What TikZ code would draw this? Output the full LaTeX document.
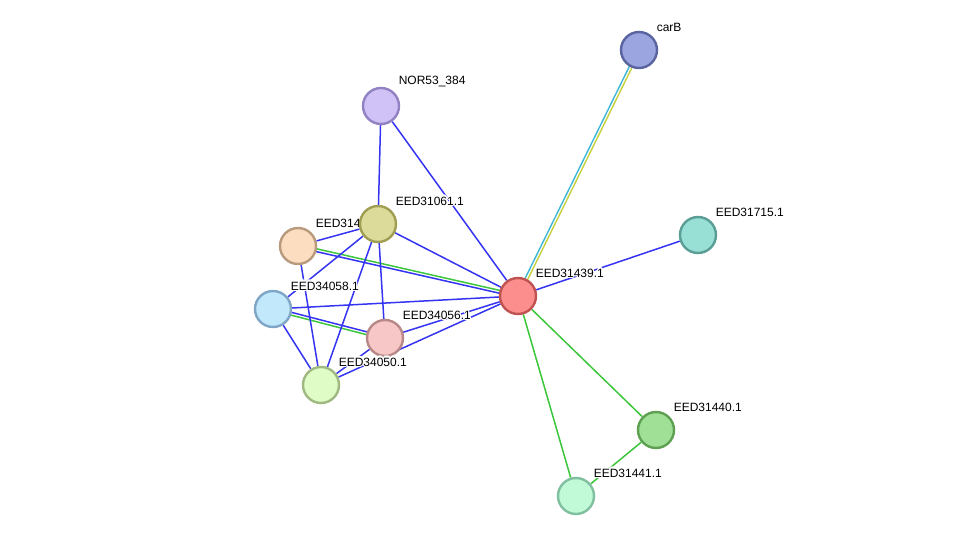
\documentclass[tikz,border=0pt]{standalone}
\usepackage{fontspec}
\setmainfont{Liberation Sans}
\usepackage[copies]{contour}
\contourlength{1.1pt}
\usetikzlibrary{calc,backgrounds}
\definecolor{linkblue}{HTML}{3434F2}
\definecolor{linkgreen}{HTML}{3CC63C}
\definecolor{linkcyan}{HTML}{3CB6D8}
\definecolor{linkyellow}{HTML}{C6D03C}
\definecolor{carbfill}{HTML}{9BA5E0}
\definecolor{carbdraw}{HTML}{5A64A0}
\definecolor{norfill}{HTML}{D0C2F6}
\definecolor{nordraw}{HTML}{9282C4}
\definecolor{olivefill}{HTML}{DCDB9A}
\definecolor{olivedraw}{HTML}{A09E52}
\definecolor{peachfill}{HTML}{FDDDC0}
\definecolor{peachdraw}{HTML}{B89A7C}
\definecolor{skyfill}{HTML}{C2E8FB}
\definecolor{skydraw}{HTML}{7FA6C6}
\definecolor{pinkfill}{HTML}{F7C7C7}
\definecolor{pinkdraw}{HTML}{B88888}
\definecolor{limefill}{HTML}{E0FCC6}
\definecolor{limedraw}{HTML}{A0B882}
\definecolor{redfill}{HTML}{FC8E8E}
\definecolor{reddraw}{HTML}{C05252}
\definecolor{tealfill}{HTML}{98DFD6}
\definecolor{tealdraw}{HTML}{5A9E96}
\definecolor{grassfill}{HTML}{A0E096}
\definecolor{grassdraw}{HTML}{5EA052}
\definecolor{mintfill}{HTML}{C0FAD6}
\definecolor{mintdraw}{HTML}{80C0A0}
\newcommand{\halo}[1]{\contour{white}{#1}}
\tikzset{
  protein/.style={circle,minimum size=36pt,inner sep=0pt,line width=2.4pt},
  plabel/.style={font=\fontsize{12}{14}\selectfont,inner sep=4pt},
  bluelink/.style={linkblue,line width=1.5pt},
  greenlink/.style={linkgreen,line width=1.5pt},
  cyanlink/.style={linkcyan,line width=1.4pt},
  yellowlink/.style={linkyellow,line width=1.4pt}
}

\begin{document}
\begin{tikzpicture}[x=1pt,y=-1pt]
  \useasboundingbox (0,-1) rectangle (975,540);

  % proteins (orange one before EED31061.1, which hides part of its label)
  \node[protein,draw=carbdraw,fill=carbfill,label={[plabel]45:\halo{carB}}] (carB) at (639,49) {};
  \node[protein,draw=nordraw,fill=norfill,label={[plabel]45:\halo{NOR53\_384}}] (nor53) at (381,105) {};
  \node[protein,draw=peachdraw,fill=peachfill,label={[plabel]45:\halo{EED31438.1}}] (eed31438) at (298,245) {};
  \node[protein,draw=olivedraw,fill=olivefill,label={[plabel]45:\halo{EED31061.1}}] (eed31061) at (378,223) {};
  \node[protein,draw=skydraw,fill=skyfill,label={[plabel]45:\halo{EED34058.1}}] (eed34058) at (273,308) {};
  \node[protein,draw=pinkdraw,fill=pinkfill,label={[plabel]45:\halo{EED34056.1}}] (eed34056) at (385,337) {};
  \node[protein,draw=limedraw,fill=limefill,label={[plabel]45:\halo{EED34050.1}}] (eed34050) at (321,384) {};
  \node[protein,draw=reddraw,fill=redfill,label={[plabel]45:\halo{EED31439.1}}] (eed31439) at (518,295) {};
  \node[protein,draw=tealdraw,fill=tealfill,label={[plabel]45:\halo{EED31715.1}}] (eed31715) at (698,234) {};
  \node[protein,draw=grassdraw,fill=grassfill,label={[plabel]45:\halo{EED31440.1}}] (eed31440) at (656,429) {};
  \node[protein,draw=mintdraw,fill=mintfill,label={[plabel]45:\halo{EED31441.1}}] (eed31441) at (576,495) {};

  \begin{scope}[on background layer]
    % double links
    \draw[cyanlink] ($(eed31439)!1.4pt!90:(carB)$) -- ($(carB)!1.4pt!-90:(eed31439)$);
    \draw[yellowlink] ($(eed31439)!1.4pt!-90:(carB)$) -- ($(carB)!1.4pt!90:(eed31439)$);
    \draw[greenlink] ($(eed31438)!1.4pt!90:(eed31439)$) -- ($(eed31439)!1.4pt!-90:(eed31438)$);
    \draw[bluelink] ($(eed31438)!1.4pt!-90:(eed31439)$) -- ($(eed31439)!1.4pt!90:(eed31438)$);
    \draw[bluelink] ($(eed34058)!1.4pt!90:(eed34056)$) -- ($(eed34056)!1.4pt!-90:(eed34058)$);
    \draw[greenlink] ($(eed34058)!1.4pt!-90:(eed34056)$) -- ($(eed34056)!1.4pt!90:(eed34058)$);

    % single blue links
    \draw[bluelink] (nor53) -- (eed31061);
    \draw[bluelink] (nor53) -- (eed31439);
    \draw[bluelink] (eed31061) -- (eed31438);
    \draw[bluelink] (eed31061) -- (eed34058);
    \draw[bluelink] (eed31061) -- (eed34056);
    \draw[bluelink] (eed31061) -- (eed34050);
    \draw[bluelink] (eed31061) -- (eed31439);
    \draw[bluelink] (eed31438) -- (eed34050);
    \draw[bluelink] (eed34058) -- (eed31439);
    \draw[bluelink] (eed34058) -- (eed34050);
    \draw[bluelink] (eed34056) -- (eed31439);
    \draw[bluelink] (eed34050) -- (eed34056);
    \draw[bluelink] (eed34050) -- (eed31439);
    \draw[bluelink] (eed31439) -- (eed31715);

    % single green links
    \draw[greenlink] (eed31439) -- (eed31440);
    \draw[greenlink] (eed31439) -- (eed31441);
    \draw[greenlink] (eed31440) -- (eed31441);
  \end{scope}
\end{tikzpicture}
\end{document}
